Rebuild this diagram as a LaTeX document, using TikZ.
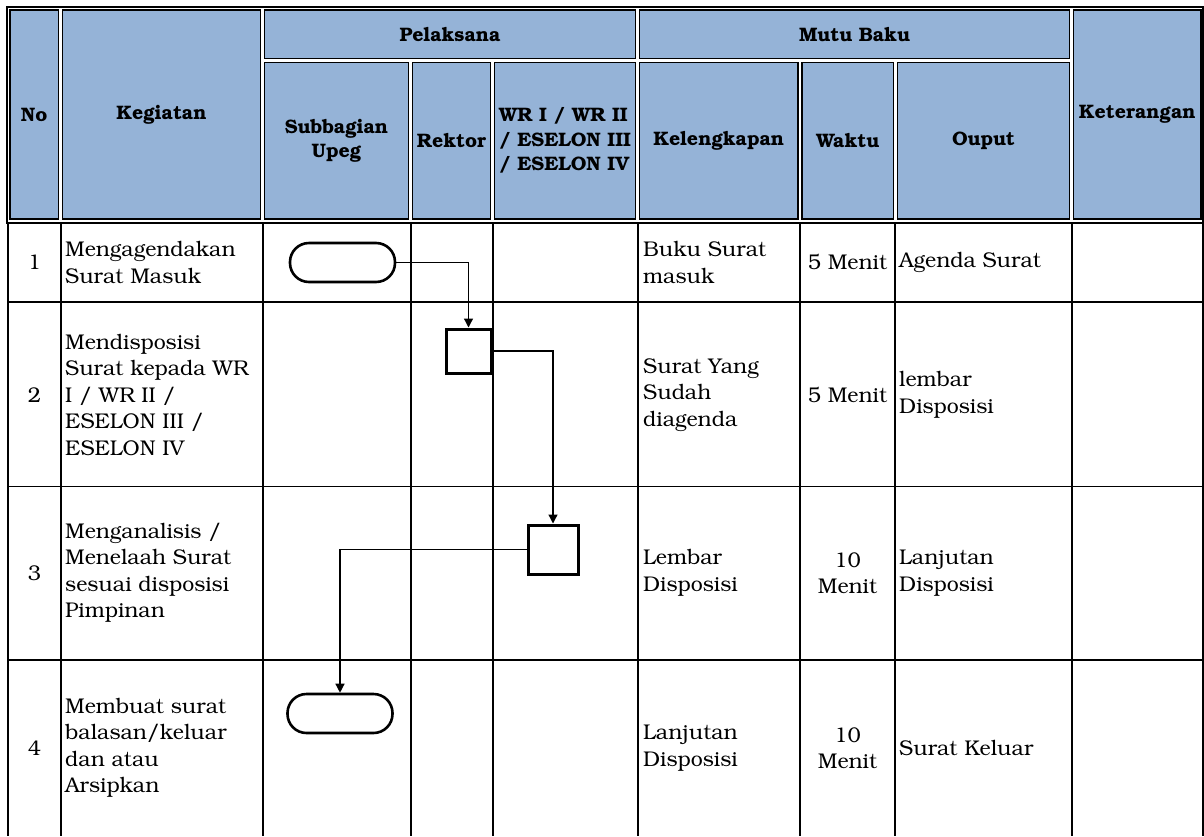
\documentclass[tikz,border=0pt]{standalone}
\usepackage[T1]{fontenc}
\usepackage{bookman}
\usetikzlibrary{arrows.meta}
\definecolor{hdrblue}{RGB}{149,179,215}
\newcommand\bodyfnt{\fontsize{21.3}{26.5}\selectfont}
\newcommand\hdrfnt{\fontsize{19.5}{24.5}\selectfont\bfseries}
\tikzset{
  hcell/.style={draw=black, fill=hdrblue, line width=1.8pt, inner sep=0pt, font=\hdrfnt, align=center},
  grid/.style={line width=1.4pt, black},
  ltext/.style={font=\bodyfnt, align=left, inner sep=0pt, anchor=west},
  ctext/.style={font=\bodyfnt, align=center, inner sep=0pt},
  term/.style={draw, line width=2.6pt, rounded corners=19pt, minimum width=105pt, minimum height=39pt, inner sep=0pt},
  proc/.style={draw, line width=3pt, inner sep=0pt},
  conn/.style={line width=1.3pt, -{Triangle[length=9pt,width=9pt]}}
}
\begin{document}
\begin{tikzpicture}[x=1pt,y=-1pt]
\useasboundingbox (0,0) rectangle (1204,836);
% header frame
\draw[line width=2pt] (7,7) rectangle (1203,223);
% header cells
\node[hcell, minimum width=48.5pt, minimum height=209pt] (hNo) at (34.25,114.5) {No};
\node[hcell, minimum width=198pt, minimum height=209pt] (hKeg) at (161.5,114.5) {Kegiatan};
\node[hcell, minimum width=371pt, minimum height=48.5pt] (hPel) at (450,34.25) {Pelaksana};
\node[hcell, minimum width=430pt, minimum height=48.5pt] (hMutu) at (854.5,34.25) {Mutu Baku};
\node[hcell, minimum width=127.5pt, minimum height=209pt] (hKet) at (1137.25,114.5) {Keterangan};
\node[hcell, minimum width=144pt, minimum height=156.5pt] (hSub) at (336.5,140.75) {Subbagian\\Upeg};
\node[hcell, minimum width=78pt, minimum height=156.5pt] (hRek) at (451.5,140.75) {Rektor};
\node[hcell, minimum width=141pt, minimum height=156.5pt, align=left] (hWR) at (565,140.75) {WR I / WR II\\/ ESELON III\\/ ESELON IV};
\node[hcell, minimum width=158.5pt, minimum height=156.5pt] (hKel) at (718.75,140.75) {Kelengkapan};
\node[hcell, minimum width=91.5pt, minimum height=156.5pt] (hWak) at (847.75,140.75) {Waktu};
\node[hcell, minimum width=172pt, minimum height=156.5pt] (hOut) at (983.5,140.75) {Ouput};
% body grid
\foreach \gx in {8,61,263,411,493,638,800,895,1072,1203}
  \draw[grid] (\gx,223) -- (\gx,836);
\foreach \gy in {302,486.5,660}
  \draw[grid] (8,\gy) -- (1203,\gy);
% row 1
\node[ctext] (n1) at (34.5,262.5) {1};
\node[ltext] (k1) at (65,262.5) {Mengagendakan\\Surat Masuk};
\node[ltext] (l1) at (643,262.5) {Buku Surat\\masuk};
\node[ctext] (w1) at (847.5,262.5) {5 Menit};
\node[ltext] (o1) at (899,262.5) {Agenda Surat};
% row 2
\node[ctext] (n2) at (34.5,395) {2};
\node[ltext] (k2) at (65,395) {Mendisposisi\\Surat kepada WR\\I / WR II /\\ESELON III /\\ESELON IV};
\node[ltext] (l2) at (643,395) {Surat Yang\\Sudah\\diagenda};
\node[ctext] (w2) at (847.5,395) {5 Menit};
\node[ltext] (o2) at (899,395) {lembar\\Disposisi};
% row 3
\node[ctext] (n3) at (34.5,573) {3};
\node[ltext] (k3) at (65,573) {Menganalisis /\\Menelaah Surat\\sesuai disposisi\\Pimpinan};
\node[ltext] (l3) at (643,573) {Lembar\\Disposisi};
\node[ctext] (w3) at (847.5,573) {10\\Menit};
\node[ltext] (o3) at (899,573) {Lanjutan\\Disposisi};
% row 4
\node[ctext] (n4) at (34.5,748) {4};
\node[ltext] (k4) at (65,748) {Membuat surat\\balasan/keluar\\dan atau\\Arsipkan};
\node[ltext] (l4) at (643,748) {Lanjutan\\Disposisi};
\node[ctext] (w4) at (847.5,748) {10\\Menit};
\node[ltext] (o4) at (899,748) {Surat Keluar};
% flow shapes
\node[term] (t1) at (342.5,262.5) {};
\node[proc, minimum width=45pt, minimum height=44pt] (p1) at (468.5,351) {};
\node[proc, minimum width=50pt, minimum height=49pt] (p2) at (553,549.5) {};
\node[term] (t2) at (340,713.5) {};
% connectors
\draw[conn] (t1.east) -| (p1.north);
\draw[conn] (p1.east) -| (p2.north);
\draw[conn] (p2.west) -| (t2.north);
\end{tikzpicture}
\end{document}
